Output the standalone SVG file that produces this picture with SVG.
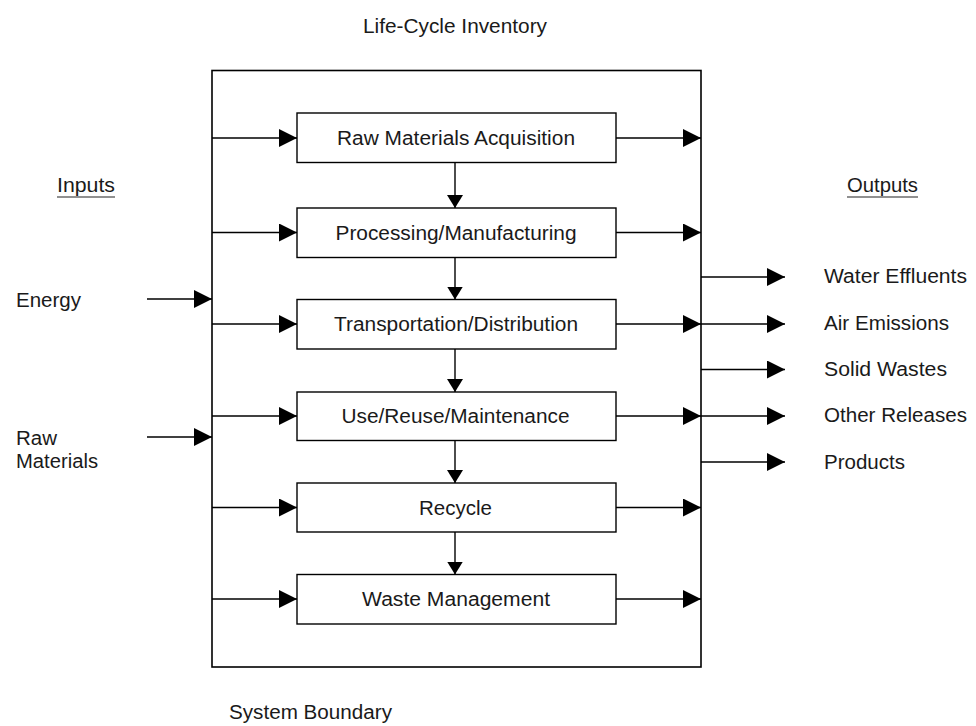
<svg xmlns="http://www.w3.org/2000/svg" width="976" height="726" viewBox="0 0 976 726">
<style>
  text { font-family: "Liberation Sans", Arial, sans-serif; font-size: 20px; fill: #1a1a1a; }
  .box { fill: #fff; stroke: #000; stroke-width: 1.4; }
  .boundary { fill: none; stroke: #000; stroke-width: 1.6; }
  .c { stroke: #000; stroke-width: 1.4; fill: none; }
  .h { marker-end: url(#ah); }
  .v { marker-end: url(#av); }
  .mid { text-anchor: middle; }
</style>
<defs>
  <marker id="ah" viewBox="0 0 18 18" refX="18" refY="9" markerWidth="18" markerHeight="18" markerUnits="userSpaceOnUse" orient="auto">
    <path d="M0,0 L18,9 L0,18 z" fill="#000"/>
  </marker>
  <marker id="av" viewBox="0 0 13 16" refX="13" refY="8" markerWidth="13" markerHeight="16" markerUnits="userSpaceOnUse" orient="auto">
    <path d="M0,0 L13,8 L0,16 z" fill="#000"/>
  </marker>
</defs>

<text x="363" y="32.5" textLength="184" lengthAdjust="spacingAndGlyphs">Life-Cycle Inventory</text>

<g id="system-boundary">
  <rect class="boundary" x="212" y="70.5" width="489" height="596.5"/>
  <text x="229" y="719" textLength="163" lengthAdjust="spacingAndGlyphs">System Boundary</text>
</g>

<g id="inputs-label">
  <text x="57" y="192" textLength="58" lengthAdjust="spacingAndGlyphs">Inputs</text>
  <line x1="57" y1="197" x2="115" y2="197" stroke="#222" stroke-width="1.2"/>
</g>
<g id="outputs-label">
  <text x="847" y="192" textLength="71" lengthAdjust="spacingAndGlyphs">Outputs</text>
  <line x1="847" y1="197" x2="918" y2="197" stroke="#222" stroke-width="1.2"/>
</g>

<g id="energy"><text x="16" y="306.5" textLength="65" lengthAdjust="spacingAndGlyphs">Energy</text></g>
<g id="raw-materials">
  <text x="16" y="445" textLength="41" lengthAdjust="spacingAndGlyphs">Raw</text>
  <text x="16" y="468" textLength="82" lengthAdjust="spacingAndGlyphs">Materials</text>
</g>

<g id="raw-materials-acquisition">
  <rect class="box" x="297" y="113" width="319" height="49.5"/>
  <text class="mid" x="456" y="144.5" textLength="238" lengthAdjust="spacingAndGlyphs">Raw Materials Acquisition</text>
</g>
<g id="processing-manufacturing">
  <rect class="box" x="297" y="208" width="319" height="49.5"/>
  <text class="mid" x="456" y="239.5" textLength="241" lengthAdjust="spacingAndGlyphs">Processing/Manufacturing</text>
</g>
<g id="transportation-distribution">
  <rect class="box" x="297" y="299.5" width="319" height="49.5"/>
  <text class="mid" x="456" y="331" textLength="244" lengthAdjust="spacingAndGlyphs">Transportation/Distribution</text>
</g>
<g id="use-reuse-maintenance">
  <rect class="box" x="297" y="392" width="319" height="48.5"/>
  <text class="mid" x="455.5" y="422.5" textLength="228" lengthAdjust="spacingAndGlyphs">Use/Reuse/Maintenance</text>
</g>
<g id="recycle">
  <rect class="box" x="297" y="483" width="319" height="49"/>
  <text class="mid" x="455.5" y="514.5" textLength="73" lengthAdjust="spacingAndGlyphs">Recycle</text>
</g>
<g id="waste-management">
  <rect class="box" x="297" y="574.5" width="319" height="49.5"/>
  <text class="mid" x="456" y="606" textLength="188" lengthAdjust="spacingAndGlyphs">Waste Management</text>
</g>

<g id="output-labels">
  <text x="824" y="283" textLength="143" lengthAdjust="spacingAndGlyphs">Water Effluents</text>
  <text x="824" y="329.5" textLength="125" lengthAdjust="spacingAndGlyphs">Air Emissions</text>
  <text x="824" y="376" textLength="123" lengthAdjust="spacingAndGlyphs">Solid Wastes</text>
  <text x="824" y="422" textLength="143" lengthAdjust="spacingAndGlyphs">Other Releases</text>
  <text x="824" y="468.5" textLength="81" lengthAdjust="spacingAndGlyphs">Products</text>
</g>

<g id="connectors">
  <!-- inputs into boundary -->
  <line class="c h" x1="147" y1="299" x2="212" y2="299"/>
  <line class="c h" x1="147" y1="437" x2="212" y2="437"/>
  <!-- boundary to stages -->
  <line class="c h" x1="212" y1="138" x2="297" y2="138"/>
  <line class="c h" x1="212" y1="232.5" x2="297" y2="232.5"/>
  <line class="c h" x1="212" y1="324" x2="297" y2="324"/>
  <line class="c h" x1="212" y1="416" x2="297" y2="416"/>
  <line class="c h" x1="212" y1="507.5" x2="297" y2="507.5"/>
  <line class="c h" x1="212" y1="599" x2="297" y2="599"/>
  <!-- stages to boundary -->
  <line class="c h" x1="616" y1="138" x2="701" y2="138"/>
  <line class="c h" x1="616" y1="232.5" x2="701" y2="232.5"/>
  <line class="c h" x1="616" y1="324" x2="701" y2="324"/>
  <line class="c h" x1="616" y1="416" x2="701" y2="416"/>
  <line class="c h" x1="616" y1="507.5" x2="701" y2="507.5"/>
  <line class="c h" x1="616" y1="599" x2="701" y2="599"/>
  <!-- stage to stage -->
  <line class="c v" x1="455" y1="162.5" x2="455" y2="208"/>
  <line class="c v" x1="455" y1="257.5" x2="455" y2="299.5"/>
  <line class="c v" x1="455" y1="349" x2="455" y2="392"/>
  <line class="c v" x1="455" y1="440.5" x2="455" y2="483"/>
  <line class="c v" x1="455" y1="532" x2="455" y2="574.5"/>
  <!-- outputs -->
  <line class="c h" x1="701" y1="277" x2="785" y2="277"/>
  <line class="c h" x1="701" y1="324" x2="785" y2="324"/>
  <line class="c h" x1="701" y1="369.5" x2="785" y2="369.5"/>
  <line class="c h" x1="701" y1="416" x2="785" y2="416"/>
  <line class="c h" x1="701" y1="462" x2="785" y2="462"/>
</g>
</svg>
